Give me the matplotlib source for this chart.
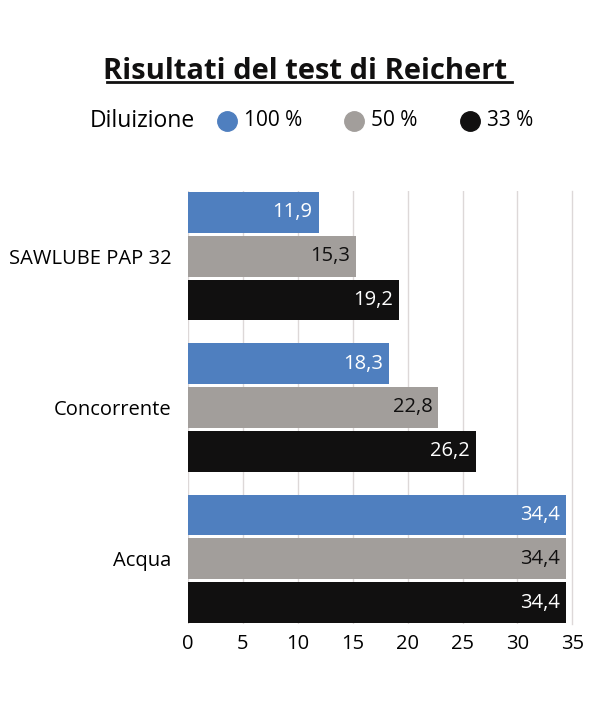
import matplotlib.pyplot as plt
from matplotlib.lines import Line2D
import numpy as np

plt.rcParams['font.family'] = ['Open Sans', 'DejaVu Sans']

# data
categories = ['SAWLUBE PAP 32', 'Concorrente', 'Acqua']
series_names = ['100 %', '50 %', '33 %']
val_100 = [11.9, 18.3, 34.4]
val_50 = [15.3, 22.8, 34.4]
val_33 = [19.2, 26.2, 34.4]
xticks = [0, 5, 10, 15, 20, 25, 30, 35]

colors = ['#4f7fbf', '#a29e9b', '#111010']
text_colors = ['white', '#111010', 'white']

fig = plt.figure(figsize=(6, 7.05), dpi=100)
ax = fig.add_axes([0.313, 0.115, 0.641, 0.614])

y = np.arange(len(categories))
offsets = [-0.29, 0, 0.29]
h = 0.27
for vals, off, c, tc in zip([val_100, val_50, val_33], offsets, colors, text_colors):
    bars = ax.barh(y + off, vals, height=h, color=c, zorder=3)
    for b, v in zip(bars, vals):
        ax.text(v - 0.55, b.get_y() + h / 2, f'{v:.1f}'.replace('.', ','),
                ha='right', va='center', color=tc, fontsize=14.5, zorder=4)

ax.set_ylim(2.43, -0.43)
ax.set_xlim(0, 35)
ax.set_xticks(xticks)
ax.set_yticks(y)
ax.set_yticklabels(categories, fontsize=14.5)
ax.tick_params(axis='x', labelsize=14.5, length=0, pad=7)
ax.tick_params(axis='y', length=0, pad=12)
ax.grid(axis='x', color='#ddd8d8', linewidth=1, zorder=0)
ax.xaxis.get_gridlines()[-1].set_clip_on(False)
for s in ax.spines.values():
    s.set_visible(False)

# title with underline
fig.text(0.515, 0.898, 'Risultati del test di Reichert ', ha='center', va='center',
         fontsize=21, fontweight='bold', color='#111010')
fig.add_artist(Line2D([107 / 600, 512 / 600], [1 - 82 / 705, 1 - 82 / 705],
                      color='#111010', linewidth=2))

# legend
ly = 1 - 121 / 705
fig.text(90 / 600, ly, 'Diluizione', ha='left', va='center', fontsize=16.5)
for name, c, mx in zip(series_names, colors, [227, 354, 470]):
    fig.add_artist(Line2D([mx / 600], [ly], marker='o', markersize=14,
                          color=c, linestyle='none'))
    fig.text((mx + 17) / 600, ly, name, ha='left', va='center', fontsize=15)

fig.savefig('out.png', dpi=100)
